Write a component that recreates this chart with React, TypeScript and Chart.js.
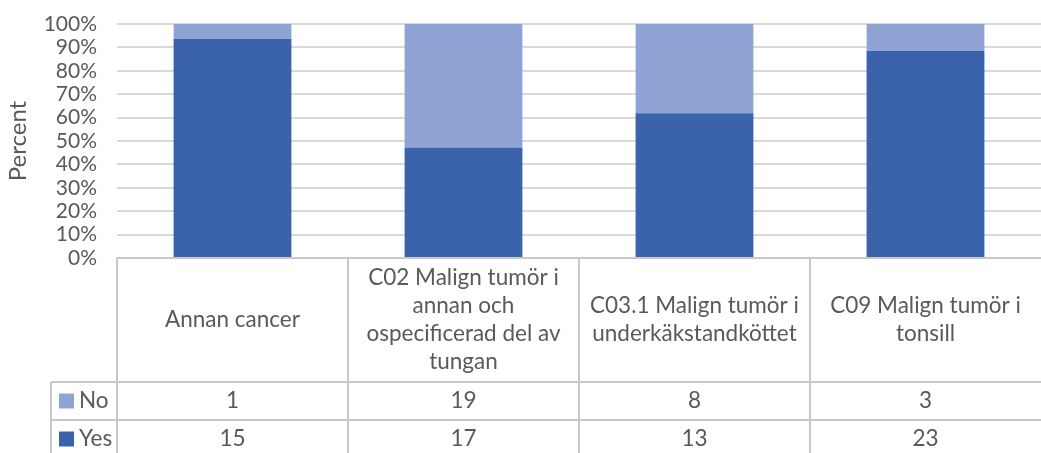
import { useEffect, useRef } from 'react';
import { Chart, registerables } from 'chart.js';

Chart.register(...registerables);

const categories: string[][] = [
  ['Annan cancer'],
  ['C02 Malign tumör i', 'annan och', 'ospecificerad del av', 'tungan'],
  ['C03.1 Malign tumör i', 'underkäkstandköttet'],
  ['C09 Malign tumör i', 'tonsill'],
];
const seriesNames = ['No', 'Yes'];
const noCounts = [1, 19, 8, 3];
const yesCounts = [15, 17, 13, 23];
const yTickValues = [0, 10, 20, 30, 40, 50, 60, 70, 80, 90, 100];
const yAxisTitle = 'Percent';

const COLOR_YES = '#3A63AB';
const COLOR_NO = '#8FA4D4';
const TEXT = '#595959';
const GRID = '#D9D9D9';
const TABLE_LINE = '#C8C8C8';
const FONT = 'Lato, "Open Sans", sans-serif';
const FS = 22.5;
const TICK_FS = 21;
const TITLE_FS = 24;

const totals = noCounts.map((n, i) => n + yesCounts[i]);
const yesPct = yesCounts.map((v, i) => (v / totals[i]) * 100);
const noPct = noCounts.map((v, i) => (v / totals[i]) * 100);

const tablePlugin = {
  id: 'dataTable',
  afterDraw(chart: any) {
    const { ctx, chartArea, scales } = chart;
    const x = scales.x;
    const n = categories.length;
    const colW = n > 1 ? x.getPixelForValue(1) - x.getPixelForValue(0) : chartArea.right - chartArea.left;
    const top = chartArea.bottom;
    const headerH = 124;
    const rowH = 38;
    const hdrBottom = top + headerH;
    const legendLeft = 51;
    const bottom = chart.height + 10;
    const right = chartArea.right;

    ctx.save();
    ctx.strokeStyle = TABLE_LINE;
    ctx.lineWidth = 2;
    ctx.beginPath();
    ctx.moveTo(chartArea.left, top);
    ctx.lineTo(right, top);
    for (let r = 0; r <= 2; r++) {
      const yy = hdrBottom + r * rowH;
      ctx.moveTo(legendLeft, yy);
      ctx.lineTo(right, yy);
    }
    for (let i = 0; i < n; i++) {
      const lx = x.getPixelForValue(i) - colW / 2;
      ctx.moveTo(lx, top);
      ctx.lineTo(lx, bottom);
    }
    ctx.moveTo(legendLeft, hdrBottom);
    ctx.lineTo(legendLeft, bottom);
    ctx.stroke();

    ctx.fillStyle = TEXT;
    ctx.font = `${FS}px ${FONT}`;
    ctx.textAlign = 'center';
    ctx.textBaseline = 'middle';
    const lh = 28;
    const hc = top + headerH / 2;
    categories.forEach((lines, i) => {
      const cx = x.getPixelForValue(i);
      const start = hc - ((lines.length - 1) * lh) / 2;
      lines.forEach((ln, k) => ctx.fillText(ln, cx, start + k * lh));
    });

    const rows = [
      { name: seriesNames[0], color: COLOR_NO, values: noCounts },
      { name: seriesNames[1], color: COLOR_YES, values: yesCounts },
    ];
    rows.forEach((row, r) => {
      const cy = hdrBottom + r * rowH + rowH / 2;
      ctx.fillStyle = row.color;
      ctx.fillRect(59, cy - 7.5, 15, 15);
      ctx.fillStyle = TEXT;
      ctx.textAlign = 'left';
      ctx.fillText(row.name, 79, cy);
      ctx.textAlign = 'center';
      row.values.forEach((v, i) => {
        ctx.fillText(String(v), x.getPixelForValue(i), cy);
      });
    });
    ctx.restore();
  },
};

export default function App() {
  const ref = useRef<HTMLCanvasElement>(null);
  useEffect(() => {
    if (!ref.current) return;
    const chart = new Chart(ref.current, {
      type: 'bar',
      data: {
        labels: categories,
        datasets: [
          {
            label: seriesNames[1],
            data: yesPct,
            backgroundColor: COLOR_YES,
            barPercentage: 0.51,
            categoryPercentage: 1,
          },
          {
            label: seriesNames[0],
            data: noPct,
            backgroundColor: COLOR_NO,
            barPercentage: 0.51,
            categoryPercentage: 1,
          },
        ],
      },
      options: {
        responsive: false,
        animation: false,
        layout: { padding: { top: 24, bottom: 195, left: 0, right: 0 } },
        plugins: {
          legend: { display: false },
          tooltip: { enabled: false },
        },
        scales: {
          x: {
            stacked: true,
            display: false,
          },
          y: {
            stacked: true,
            min: 0,
            max: 100,
            afterFit: (s: any) => {
              s.width = 117;
            },
            afterBuildTicks: (s: any) => {
              s.ticks = yTickValues.map((v) => ({ value: v }));
            },
            border: { display: false },
            grid: {
              color: GRID,
              lineWidth: 2,
              drawTicks: true,
              tickLength: 20,
              tickColor: 'rgba(0,0,0,0)',
            },
            ticks: {
              color: TEXT,
              padding: 0,
              autoSkip: false,
              font: { family: FONT, size: TICK_FS },
              callback: (v: any) => `${v}%`,
            },
            title: {
              display: true,
              text: yAxisTitle,
              color: TEXT,
              font: { family: FONT, size: TITLE_FS },
              padding: { top: 4, bottom: 0 },
            },
          },
        },
      },
      plugins: [tablePlugin],
    });
    return () => chart.destroy();
  }, []);
  return (
    <div style={{ position: 'fixed', left: 0, top: 0, width: 1041, height: 453, background: '#fff' }}>
      <canvas ref={ref} width={1041} height={453} />
    </div>
  );
}
